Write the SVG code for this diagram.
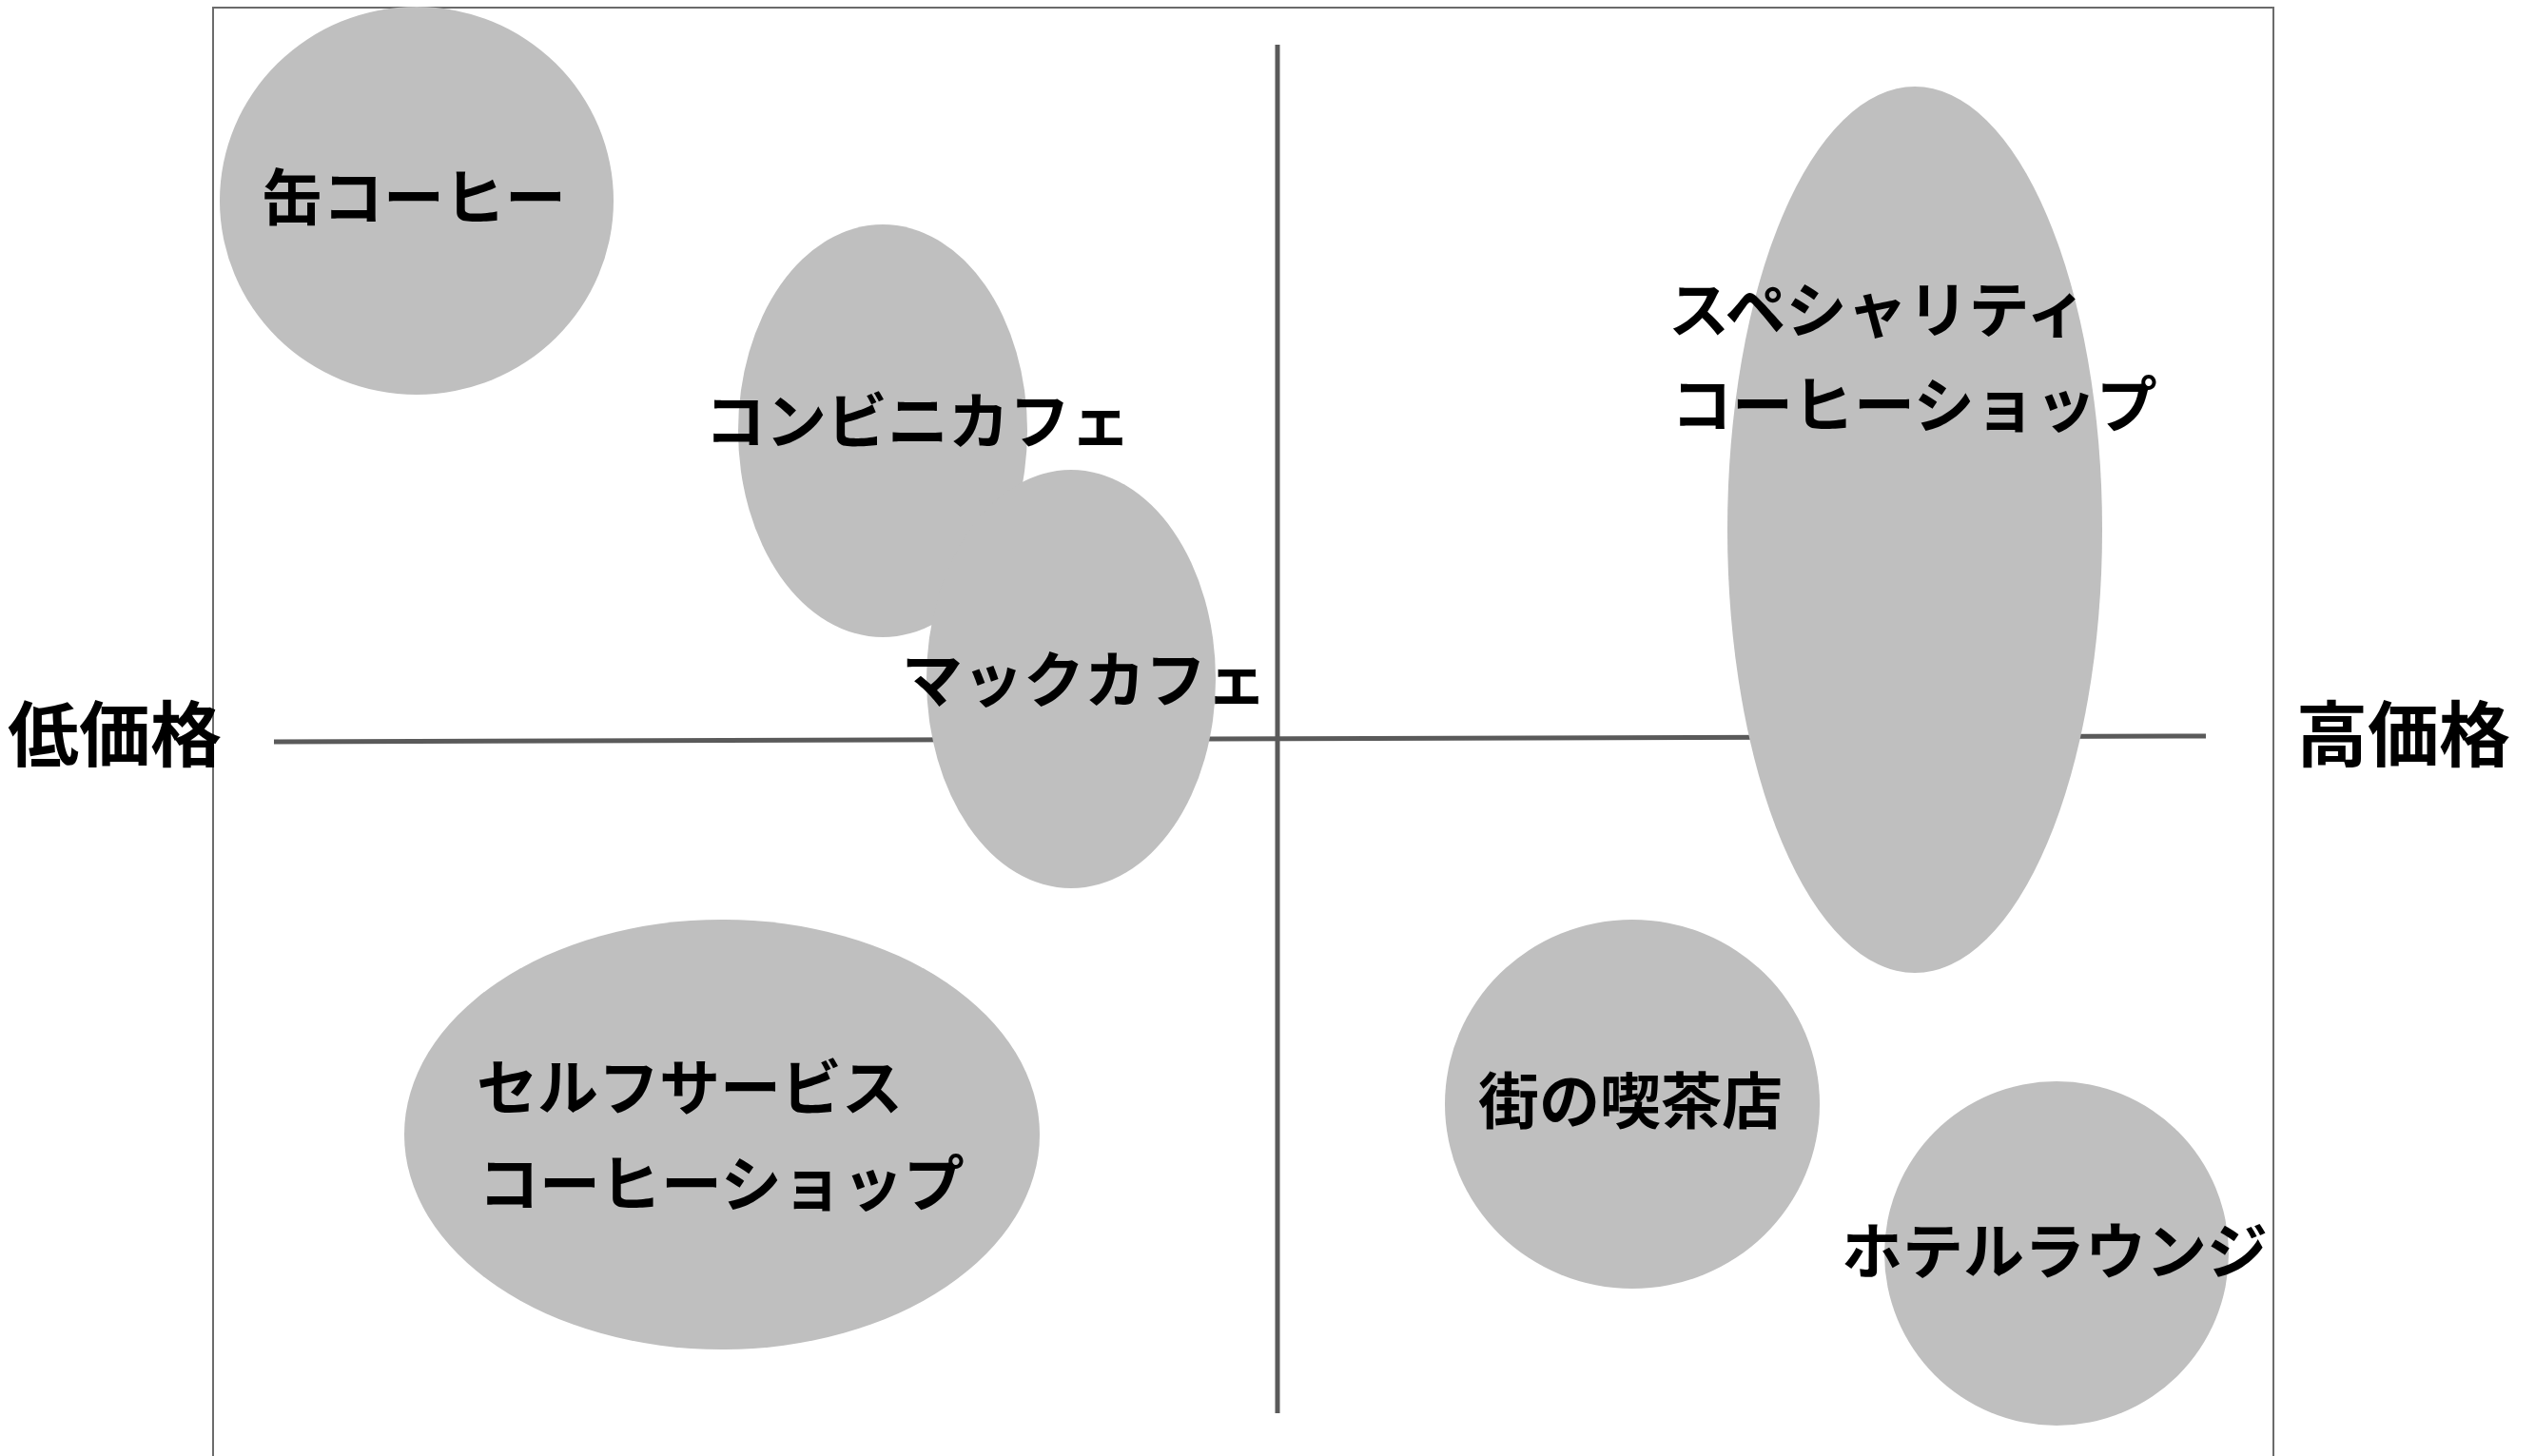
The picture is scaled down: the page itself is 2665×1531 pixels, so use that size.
<svg xmlns="http://www.w3.org/2000/svg" width="2665" height="1531" viewBox="0 0 2665 1531">
<style>
.blob{fill:#bfbfbf}
.lbl{font-family:"Noto Sans CJK JP","Noto Sans",sans-serif;font-weight:700;font-size:64px;fill:#000}
.axlbl{font-family:"Noto Sans CJK JP","Noto Sans",sans-serif;font-weight:700;font-size:75px;fill:#000}
.axis{stroke:#5a5a5a;stroke-width:5;fill:none}
.frame{stroke:#6b6b6b;stroke-width:2;fill:#fff}
</style>
<rect width="2665" height="1531" fill="#fff"/>
<rect class="frame" x="224" y="8" width="2166" height="1540"/>
<g id="connectors">
<line class="axis" x1="288" y1="780" x2="2319" y2="774"/>
<line class="axis" x1="1343" y1="47" x2="1343" y2="1486"/>
</g>
<g id="node-kan"><ellipse class="blob" cx="438" cy="211" rx="207" ry="204"/><text class="lbl" x="275" y="231">缶コーヒー</text></g>
<g id="node-konbini"><ellipse class="blob" cx="928" cy="453" rx="152" ry="217"/></g>
<g id="node-mac"><ellipse class="blob" cx="1126" cy="714" rx="152" ry="220"/></g>
<g id="label-konbini"><text class="lbl" x="741" y="466">コンビニカフェ</text></g>
<g id="label-mac"><text class="lbl" x="948" y="738">マックカフェ</text></g>
<g id="node-self"><ellipse class="blob" cx="759" cy="1193" rx="334" ry="226"/><text class="lbl" x="501" y="1167">セルフサービス</text><text class="lbl" x="503" y="1268">コーヒーショップ</text></g>
<g id="node-specialty"><ellipse class="blob" cx="2013" cy="557" rx="197" ry="466"/><text class="lbl" x="1754" y="349">スペシャリティ</text><text class="lbl" x="1757" y="449">コーヒーショップ</text></g>
<g id="node-kissa"><ellipse class="blob" cx="1716" cy="1161" rx="197" ry="194"/><text class="lbl" x="1554" y="1181">街の喫茶店</text></g>
<g id="node-hotel"><ellipse class="blob" cx="2162" cy="1318" rx="181" ry="181"/><text class="lbl" x="1936" y="1339">ホテルラウンジ</text></g>
<g id="axis-low"><text class="axlbl" x="8" y="800">低価格</text></g>
<g id="axis-high"><text class="axlbl" x="2414" y="800">高価格</text></g>
</svg>
